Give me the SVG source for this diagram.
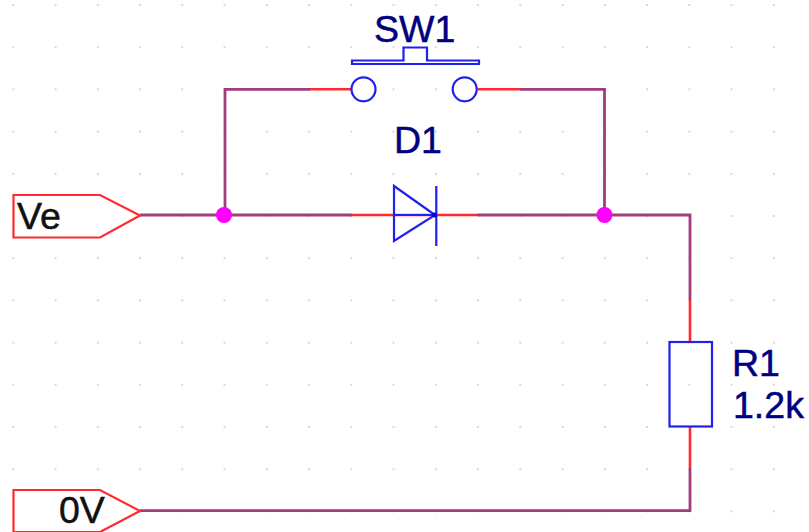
<svg xmlns="http://www.w3.org/2000/svg" width="809" height="532" viewBox="0 0 809 532">
<style>
.w{fill:none;stroke:#96286e;stroke-width:2.8;stroke-opacity:.9}
.r{fill:none;stroke:#ff2a30;stroke-width:2.6}
.b{fill:none;stroke:#2020f0;stroke-width:2.2}
.p{fill:#fff;stroke:#ff2a30;stroke-width:2.2}
.j{fill:#ff00ff}
.t{font-family:"Liberation Sans",Arial,sans-serif;font-size:37.500px;fill:#000080;stroke:#000080;stroke-width:.5}
.k{fill:#111;stroke:#111}
</style>
<defs>
<pattern id="g" width="42.25" height="42.2" patternUnits="userSpaceOnUse" patternTransform="translate(13.3 5)">
<circle cx="0" cy="0" r="1.1" fill="#cfcfcf"/><circle cx="42.25" cy="0" r="1.1" fill="#cfcfcf"/><circle cx="0" cy="42.2" r="1.1" fill="#cfcfcf"/><circle cx="42.25" cy="42.2" r="1.1" fill="#cfcfcf"/>
</pattern>
</defs>
<rect width="809" height="532" fill="#fff"/>
<rect width="809" height="532" fill="url(#g)"/>
<g id="connectors">
<path class="w" d="M140 215H352M478 215H690V300M225 215V89.300H310M604.500 215V89.300H520M690 468V510.700H140"/>
<path class="r" d="M310 89.300H351M478 89.300H520M352 215H436M436 215H478M690 300V342M690 427V468"/>
</g>
<g id="Ve"><path class="p" d="M13.500 195H100L140 215.500L100 237.500H13.500Z"/><text class="t k" x="17" y="229">Ve</text></g>
<g id="0V"><path class="p" d="M13.500 490H100L140 511L100 532H13.500Z"/><text class="t k" x="59" y="523">0V</text></g>
<g id="J1"><circle class="j" cx="224" cy="215" r="8"/></g>
<g id="J2"><circle class="j" cx="604.500" cy="215" r="8"/></g>
<g id="SW1">
<path class="b" d="M352 60.500H403.500V47.500H427V60.500H479V64H352Z"/>
<circle class="b" cx="363.500" cy="89.300" r="12"/><circle class="b" cx="464.700" cy="89.300" r="12"/>
<text class="t" x="374" y="42">SW1</text>
</g>
<g id="D1">
<path class="b" d="M394 186V241L435 215ZM436.300 186V246M394 215H435"/>
<circle cx="434.500" cy="215" r="2.500" fill="#0000d8"/>
<text class="t" x="394" y="153">D1</text>
</g>
<g id="R1">
<rect class="b" x="669.500" y="342" width="42.500" height="84.500" fill="#fff"/>
<text class="t" x="732" y="376">R1</text>
<text class="t" x="733" y="418">1.2k</text>
</g>
</svg>
